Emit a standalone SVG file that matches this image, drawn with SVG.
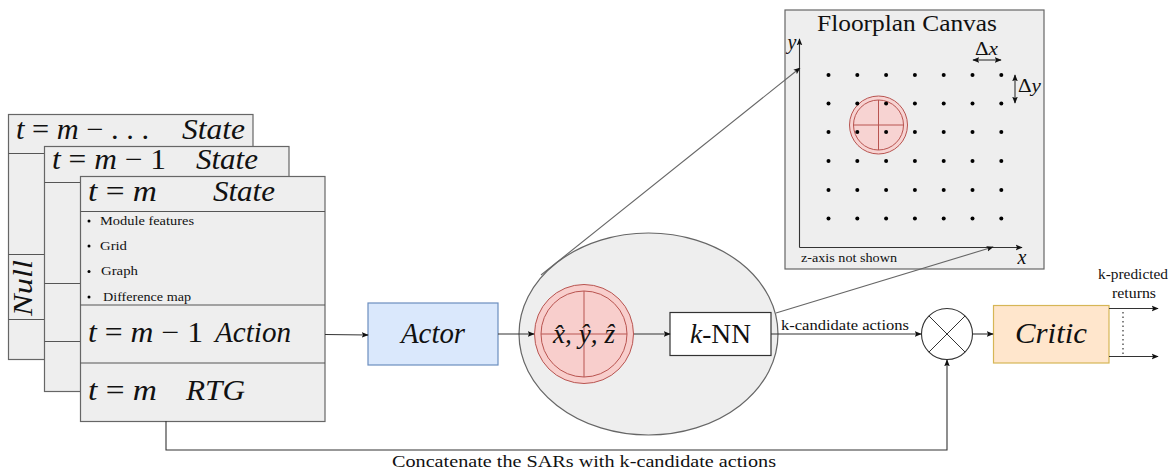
<svg xmlns="http://www.w3.org/2000/svg" width="1172" height="472" viewBox="0 0 1172 472">
<style>
text{font-family:"Liberation Serif","DejaVu Serif",serif;fill:#111}
.m{font-size:29px}
.i{font-style:italic}
.s{font-size:13px}
.box{fill:#eee;stroke:#666;stroke-width:1.2}
.sep{stroke:#555;stroke-width:1.2;fill:none}
.con{stroke:#333;stroke-width:1.1;fill:none}
.g{stroke:#666}
.arr{marker-end:url(#a)}
.red{fill:#f8cecc;stroke:#b85450;stroke-width:1}
.d{fill:#000}
</style>
<defs>
<marker id="a" viewBox="0 0 10 10" refX="9" refY="5" markerWidth="7" markerHeight="7" markerUnits="userSpaceOnUse" orient="auto-start-reverse"><path d="M0 1L10 5L0 9L2 5z" fill="#111"/></marker>
<g id="dots"><circle cx="0" cy="0" r="2" class="d"/><circle cx="28.8" cy="0" r="2" class="d"/><circle cx="57.6" cy="0" r="2" class="d"/><circle cx="86.4" cy="0" r="2" class="d"/><circle cx="115.2" cy="0" r="2" class="d"/><circle cx="144" cy="0" r="2" class="d"/><circle cx="172.8" cy="0" r="2" class="d"/></g>
</defs>
<g id="state-stack-back">
<rect class="box" x="8.5" y="114.5" width="244.500" height="245"/>
<path class="sep" d="M8.500 153.500H253M8.500 254.500H45M8.500 319.500H45"/>
<text class="m" x="16" y="139" textLength="133" lengthAdjust="spacingAndGlyphs"><tspan class="i">t</tspan> = <tspan class="i">m</tspan> − . . .</text>
<text class="m i" x="182" y="139" textLength="63" lengthAdjust="spacingAndGlyphs">State</text>
<text class="m i" transform="translate(32 316) rotate(-90)" textLength="56" lengthAdjust="spacingAndGlyphs" style="font-size:27px">Null</text>
</g>
<g id="state-stack-mid">
<rect class="box" x="44.500" y="146.500" width="244.500" height="245"/>
<path class="sep" d="M44.500 182.500H289M44.500 283.500H81M44.500 341.500H81"/>
<text class="m" x="52" y="169" textLength="114" lengthAdjust="spacingAndGlyphs"><tspan class="i">t</tspan> = <tspan class="i">m</tspan> − 1</text>
<text class="m i" x="196" y="169" textLength="62" lengthAdjust="spacingAndGlyphs">State</text>
</g>
<g id="state-stack-front">
<rect class="box" x="80.500" y="176.500" width="244.500" height="245"/>
<path class="sep" d="M80.500 211.500H325M80.500 305H325M80.500 363H325"/>
<text class="m" x="88" y="201" textLength="69" lengthAdjust="spacingAndGlyphs"><tspan class="i">t</tspan> = <tspan class="i">m</tspan></text>
<text class="m i" x="213" y="201" textLength="62" lengthAdjust="spacingAndGlyphs">State</text>
<circle cx="89" cy="221" r="1.500" class="d"/><circle cx="89" cy="246" r="1.500" class="d"/><circle cx="89" cy="271.500" r="1.500" class="d"/><circle cx="89" cy="297" r="1.500" class="d"/>
<text class="s" x="100" y="225" textLength="94" lengthAdjust="spacingAndGlyphs">Module features</text>
<text class="s" x="100" y="250" textLength="27" lengthAdjust="spacingAndGlyphs">Grid</text>
<text class="s" x="101" y="275" textLength="37" lengthAdjust="spacingAndGlyphs">Graph</text>
<text class="s" x="103" y="301" textLength="88" lengthAdjust="spacingAndGlyphs">Difference map</text>
<text class="m" x="88" y="342" textLength="115" lengthAdjust="spacingAndGlyphs"><tspan class="i">t</tspan> = <tspan class="i">m</tspan> − 1</text>
<text class="m i" x="215" y="342" textLength="76" lengthAdjust="spacingAndGlyphs">Action</text>
<text class="m" x="88" y="400" textLength="69" lengthAdjust="spacingAndGlyphs"><tspan class="i">t</tspan> = <tspan class="i">m</tspan></text>
<text class="m i" x="186" y="400" textLength="59" lengthAdjust="spacingAndGlyphs">RTG</text>
</g>
<g id="actor">
<rect x="368" y="303" width="130" height="62" fill="#dae8fc" stroke="#6c8ebf" stroke-width="1.200"/>
<text class="m i" x="401" y="343" textLength="64" lengthAdjust="spacingAndGlyphs">Actor</text>
</g>
<g id="action-space">
<ellipse cx="648.500" cy="334" rx="129.500" ry="101" fill="#eee" stroke="#666" stroke-width="1.200"/>
</g>
<g id="proto-action">
<circle class="red" cx="584" cy="334" r="49.500"/>
<circle class="red" cx="584" cy="334" r="43"/>
<path d="M541 334H627M584 291V377" stroke="#b85450" fill="none"/>
<text font-size="27" class="i" x="553" y="343" textLength="62" lengthAdjust="spacingAndGlyphs">x̂, ŷ, ẑ</text>
</g>
<g id="knn">
<rect x="670" y="312.500" width="101" height="43" fill="#fff" stroke="#333" stroke-width="1.200"/>
<text font-size="28" x="690" y="343" textLength="61" lengthAdjust="spacingAndGlyphs"><tspan class="i">k</tspan>-NN</text>
</g>
<g id="floorplan-canvas">
<rect x="785" y="10" width="259" height="259" fill="#eee" stroke="#666" stroke-width="1.200"/>
<text font-size="23" x="817" y="31" textLength="180" lengthAdjust="spacingAndGlyphs">Floorplan Canvas</text>
<circle cx="878.500" cy="125" r="29" fill="#f8cecc" fill-opacity=".85" stroke="#b85450"/>
<circle cx="878.500" cy="125" r="25" fill="none" stroke="#b85450"/>
<path d="M853.500 125H903.500M878.500 100V150" stroke="#b85450" fill="none"/>
<use href="#dots" x="828.500" y="75"/><use href="#dots" x="828.500" y="103.500"/><use href="#dots" x="828.500" y="132"/><use href="#dots" x="828.500" y="161"/><use href="#dots" x="828.500" y="190"/><use href="#dots" x="828.500" y="218.500"/>
<path class="con arr" d="M799.500 247.500V39"/>
<path class="con arr" d="M799.500 247.500H1022"/>
<path class="con arr" d="M987 60H1001"/>
<path class="con arr" d="M987 60H973"/>
<path class="con arr" d="M1015 89V75"/>
<path class="con arr" d="M1015 89V103"/>
<text font-size="20" class="i" x="792" y="49" text-anchor="middle">y</text>
<text font-size="20" class="i" x="1022" y="264" text-anchor="middle">x</text>
<text font-size="18" x="975" y="55" textLength="23" lengthAdjust="spacingAndGlyphs">Δ<tspan class="i">x</tspan></text>
<text font-size="18" x="1018" y="92" textLength="23" lengthAdjust="spacingAndGlyphs">Δ<tspan class="i">y</tspan></text>
<text font-size="12" x="801" y="262" textLength="96" lengthAdjust="spacingAndGlyphs">z-axis not shown</text>
</g>
<g id="combine">
<circle cx="947" cy="334" r="25.500" fill="#fff" stroke="#333" stroke-width="1.100"/>
<path d="M929 316L965 352M965 316L929 352" stroke="#333" fill="none"/>
</g>
<g id="critic">
<rect x="993.500" y="305.500" width="115.500" height="57.500" fill="#ffe6cc" stroke="#d6b656" stroke-width="1.200"/>
<text class="m i" x="1015" y="343" textLength="72" lengthAdjust="spacingAndGlyphs">Critic</text>
</g>
<g id="connectors">
<path class="con arr" d="M325 334.500L368 335"/>
<path class="con arr" d="M498 334H534"/>
<path class="con arr" d="M634 334H670"/>
<path class="con arr" d="M771 334H921"/>
<path class="con arr" d="M972.500 334H993"/>
<path class="con arr" d="M166 421V450H947V360"/>
<path class="con arr" d="M1109 308.500H1158"/>
<path class="con arr" d="M1109 356.500H1158"/>
<path d="M1123 312V355" stroke="#333" stroke-dasharray="1.500 3" fill="none" stroke-width="1.200"/>
<path class="con arr g" d="M541 275L800 68"/>
<path class="con arr g" d="M776 313L993 247"/>
</g>
<g id="labels">
<text font-size="14" x="781" y="330" textLength="128" lengthAdjust="spacingAndGlyphs">k-candidate actions</text>
<text font-size="16" x="392" y="467" textLength="384" lengthAdjust="spacingAndGlyphs">Concatenate the SARs with k-candidate actions</text>
<text font-size="14" x="1098" y="279" textLength="70" lengthAdjust="spacingAndGlyphs">k-predicted</text>
<text font-size="14" x="1112" y="298" textLength="44" lengthAdjust="spacingAndGlyphs">returns</text>
</g>
</svg>
